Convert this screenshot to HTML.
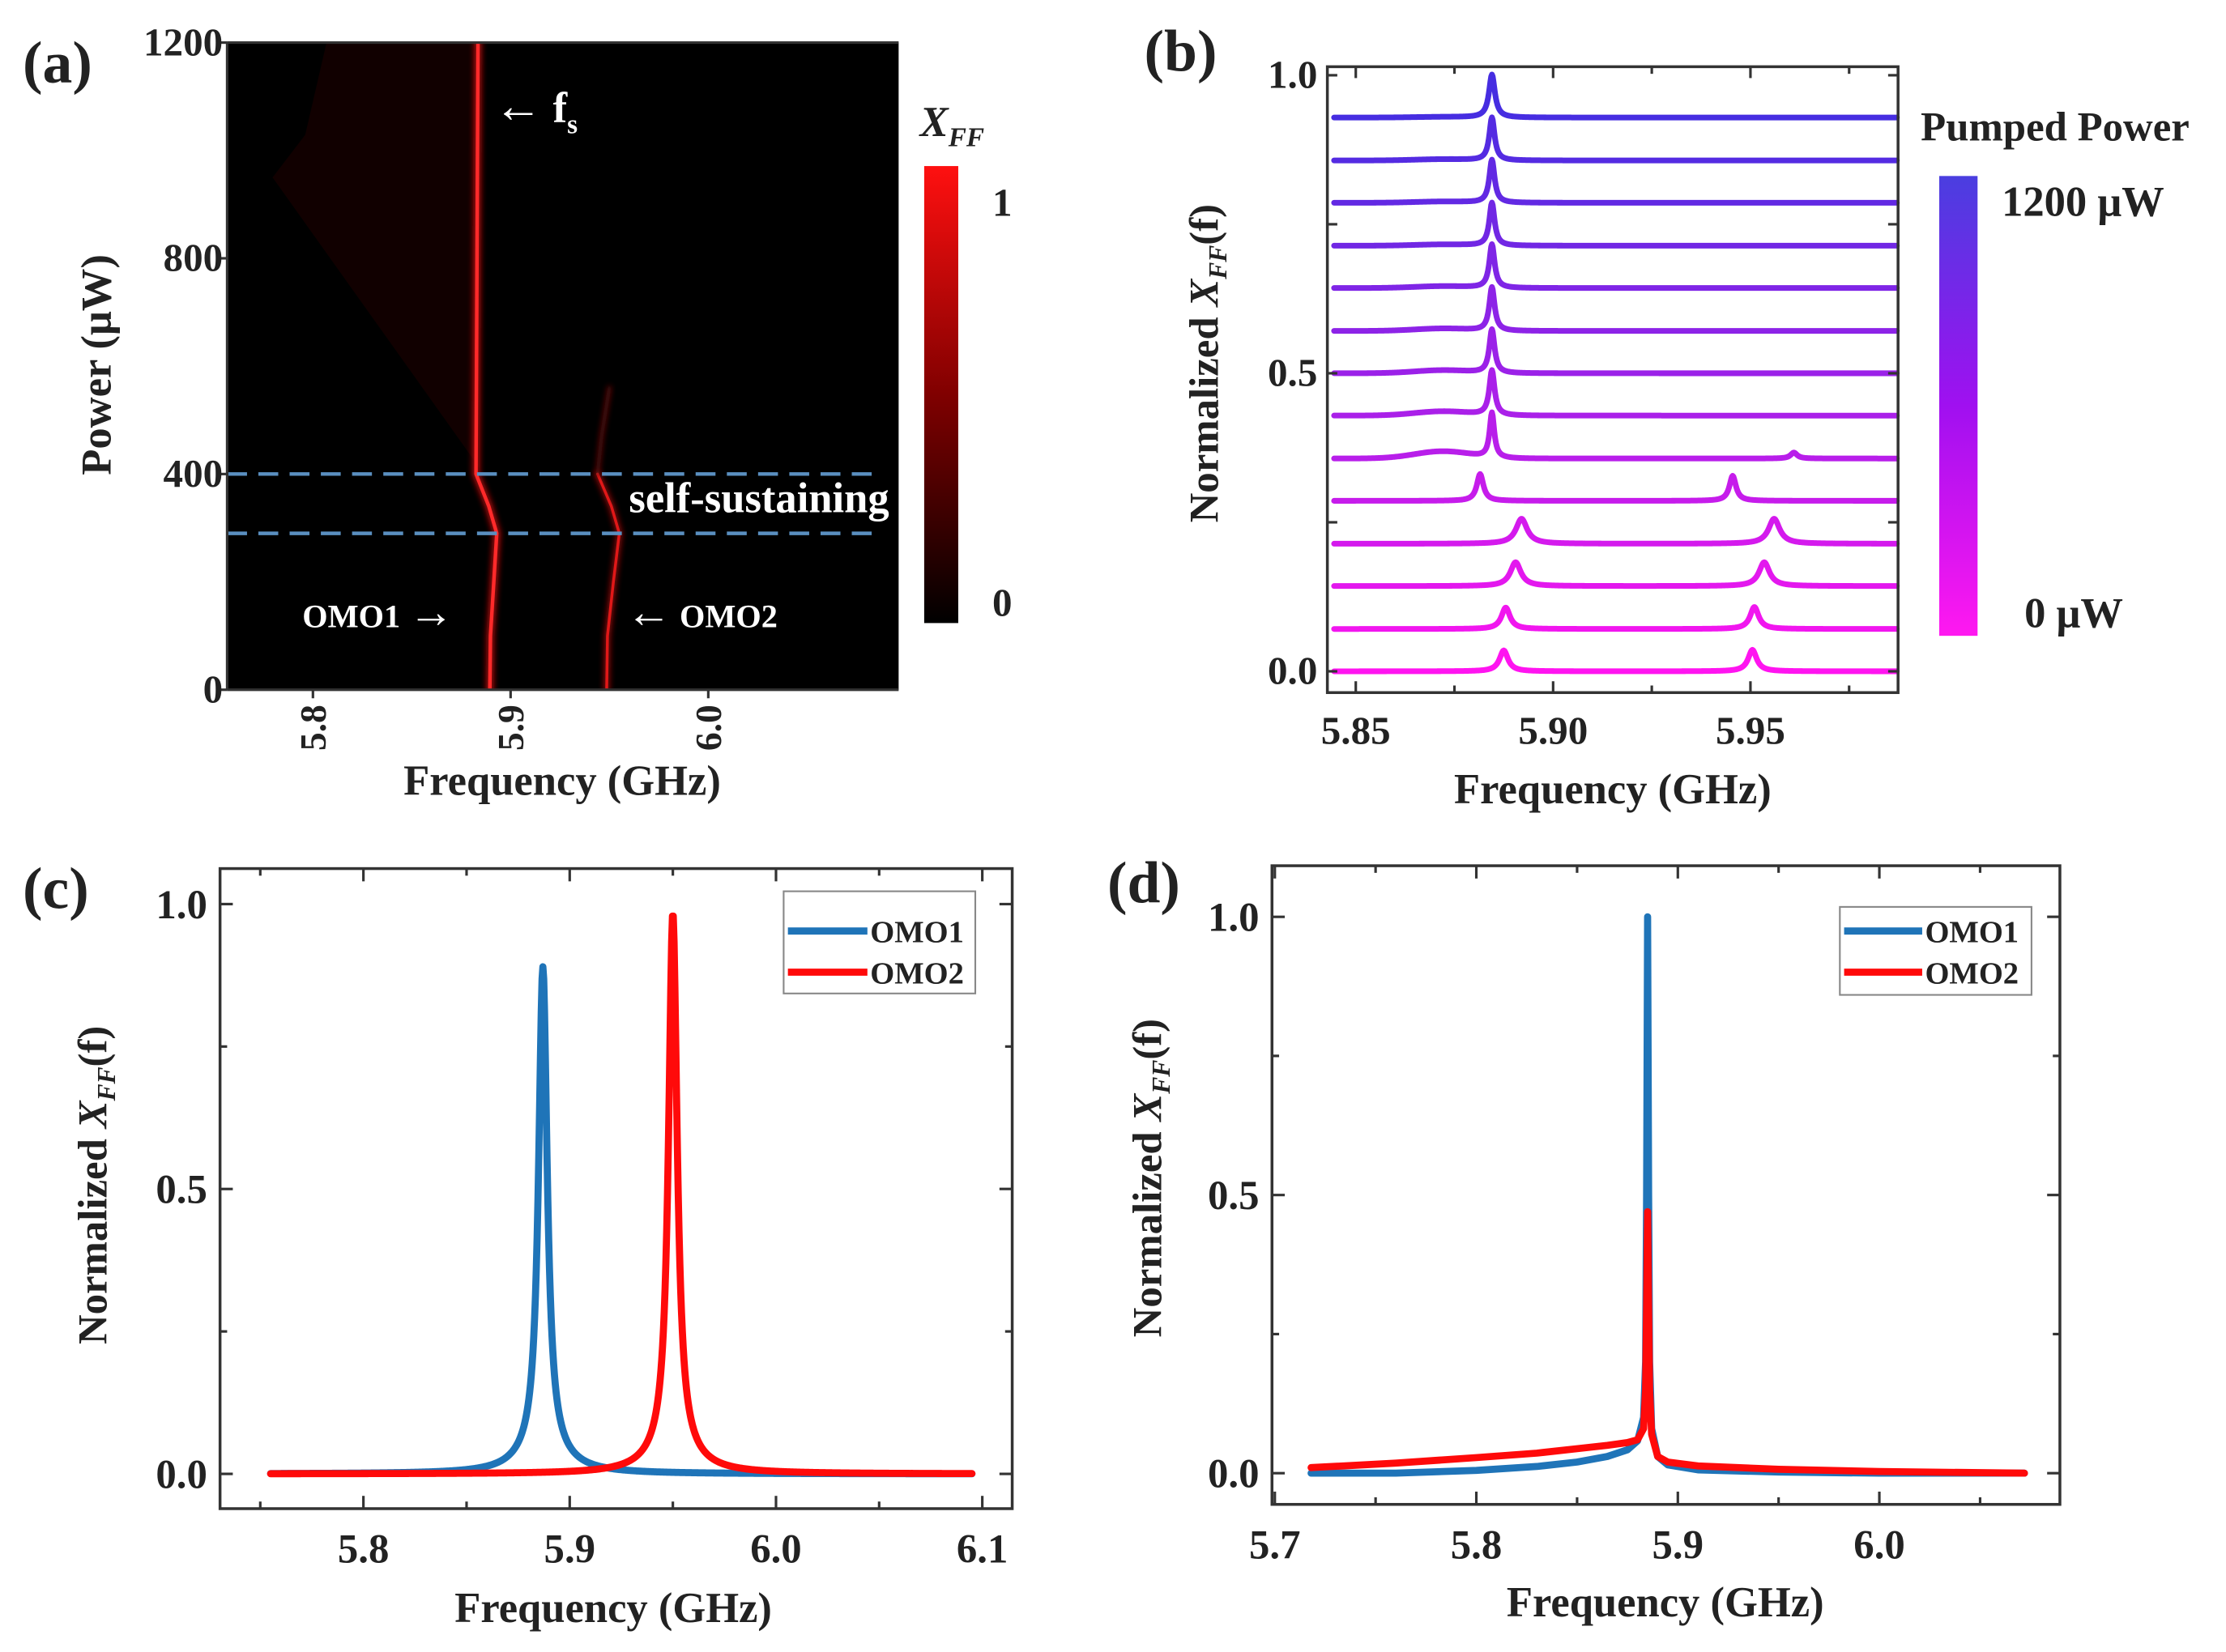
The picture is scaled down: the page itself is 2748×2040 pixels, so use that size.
<!DOCTYPE html>
<html><head><meta charset="utf-8"><style>
html,body{margin:0;padding:0;background:#fff;}
svg{display:block;}
text{font-family:"Liberation Serif",serif;font-weight:bold;fill:#222;}
</style></head><body>
<svg id="fig" width="2748" height="2040" viewBox="0 0 1568 1164" xmlns="http://www.w3.org/2000/svg">
<defs>
<linearGradient id="cbA" x1="0" y1="1" x2="0" y2="0"><stop offset="0" stop-color="#000"/><stop offset="0.5" stop-color="#800000"/><stop offset="1" stop-color="#ff1010"/></linearGradient>
<linearGradient id="cbB" x1="0" y1="1" x2="0" y2="0"><stop offset="0" stop-color="#ff18f0"/><stop offset="0.5" stop-color="#a010f0"/><stop offset="1" stop-color="#4a3ee0"/></linearGradient>
<filter id="glow" x="-50%" y="-50%" width="200%" height="200%"><feGaussianBlur stdDeviation="2"/></filter>
<clipPath id="clipA"><rect x="160" y="30" width="473" height="456"/></clipPath>
</defs>
<rect width="1568" height="1164" fill="#fff"/>

<!-- Panel a -->
<g id="pa">
<text x="16" y="58" font-size="42">(a)</text>
<rect x="160" y="30" width="473" height="456" fill="#000"/>
<g clip-path="url(#clipA)">
<polygon points="192,125 215,95 230,30 338,30 338,330" fill="#110000"/>
<g id="ridges"></g>
</g>
<line x1="160" y1="329" x2="615" y2="329" stroke="#5a8fc0" stroke-width="2.5" stroke-dasharray="14,8"/>
<line x1="160" y1="376" x2="615" y2="376" stroke="#5a8fc0" stroke-width="2.5" stroke-dasharray="14,8"/>
<text x="348" y="86" font-size="30" style="fill:#fff"><tspan font-size="34">←</tspan> f<tspan font-size="19" dy="8">s</tspan></text>
<text x="443" y="361" font-size="30" style="fill:#fff">self-sustaining</text>
<text x="213" y="442" font-size="23" style="fill:#fff">OMO1 <tspan font-size="32">→</tspan></text>
<text x="441" y="442" font-size="23" style="fill:#fff"><tspan font-size="32">←</tspan> OMO2</text>
<rect x="651" y="117" width="24" height="322" fill="url(#cbA)"/>
<text x="648" y="96" font-size="30" font-style="italic">X<tspan font-size="19" dy="7">FF</tspan></text>
<text x="699" y="152" font-size="28">1</text>
<text x="699" y="434" font-size="28">0</text>
<text x="396" y="560" font-size="30" text-anchor="middle">Frequency (GHz)</text>
<text transform="translate(78,257) rotate(-90)" font-size="30" text-anchor="middle">Power (μW)</text>
</g>

<!-- Panel b -->
<g id="pb">
<text x="806" y="50" font-size="42">(b)</text>
<g id="traces"></g>
<text x="1136" y="566" font-size="30" text-anchor="middle">Frequency (GHz)</text>
<text transform="translate(858,256) rotate(-90)" font-size="29" text-anchor="middle">Normalized <tspan font-style="italic">X<tspan font-size="18" dy="6">FF</tspan></tspan><tspan dy="-6">(f)</tspan></text>
<text x="1353" y="99" font-size="29">Pumped Power</text>
<rect x="1366" y="124" width="27" height="324" fill="url(#cbB)"/>
<text x="1410" y="152" font-size="30">1200 μW</text>
<text x="1426" y="442" font-size="30">0 μW</text>
</g>

<!-- Panel c -->
<g id="pc">
<text x="16" y="640" font-size="42">(c)</text>
<text x="432" y="1143" font-size="30" text-anchor="middle">Frequency (GHz)</text>
<text transform="translate(75,835) rotate(-90)" font-size="29" text-anchor="middle">Normalized <tspan font-style="italic">X<tspan font-size="18" dy="6">FF</tspan></tspan><tspan dy="-6">(f)</tspan></text>
<rect x="552" y="628" width="135" height="72" fill="#fff" stroke="#888" stroke-width="1.2"/>
<line x1="555" y1="656" x2="611" y2="656" stroke="#1f74b8" stroke-width="5"/>
<text x="613" y="664" font-size="22">OMO1</text>
<line x1="555" y1="685" x2="611" y2="685" stroke="#ff0a0a" stroke-width="5"/>
<text x="613" y="693" font-size="22">OMO2</text>
</g>

<!-- Panel d -->
<g id="pd">
<text x="780" y="636" font-size="42">(d)</text>
<text x="1173" y="1139" font-size="30" text-anchor="middle">Frequency (GHz)</text>
<text transform="translate(818,830) rotate(-90)" font-size="29" text-anchor="middle">Normalized <tspan font-style="italic">X<tspan font-size="18" dy="6">FF</tspan></tspan><tspan dy="-6">(f)</tspan></text>
</g>
</svg>
<script>
// ---------- data ----------
const omo1Power = [0, 100, 200, 290, 340, 400, 1200];
const omo1Freq = [5.8895, 5.8898, 5.8915, 5.893, 5.889, 5.8825, 5.8835];
const omo2Power = [0, 100, 200, 290, 340, 400];
const omo2Freq = [5.9486, 5.949, 5.952, 5.955, 5.951, 5.944];
const omo2FaintPower = [400, 470, 560];
const omo2FaintFreq = [5.944, 5.946, 5.950];
const aXTicks = [5.8, 5.9, 6.0];
const aXTickLabels = ["5.8", "5.9", "6.0"];
const aYTicks = [0, 400, 800, 1200];
const aYTickLabels = ["0", "400", "800", "1200"];
const dashedPowers = [400, 290];

const bOffsets = [0, 0.071, 0.143, 0.214, 0.286, 0.357, 0.429, 0.5, 0.571, 0.643, 0.714, 0.786, 0.857, 0.929];
const bPeak1F = [5.8875, 5.888, 5.8905, 5.892, 5.8815, 5.8845, 5.8845, 5.8845, 5.8845, 5.8845, 5.8845, 5.8845, 5.8845, 5.8845];
const bPeak1H = [0.035, 0.036, 0.04, 0.042, 0.045, 0.075, 0.075, 0.073, 0.073, 0.073, 0.072, 0.072, 0.072, 0.072];
const bPeak1W = [0.0013, 0.0013, 0.0016, 0.0017, 0.001, 0.0007, 0.0008, 0.0008, 0.0008, 0.0008, 0.0008, 0.0008, 0.0008, 0.0009];
const bPeak2F = [5.9505, 5.951, 5.9535, 5.956, 5.9455, 5.961, 5.95, 5.95, 5.95, 5.95, 5.95, 5.95, 5.95, 5.95];
const bPeak2H = [0.036, 0.037, 0.04, 0.042, 0.042, 0.01, 0, 0, 0, 0, 0, 0, 0, 0];
const bPeak2W = [0.0013, 0.0013, 0.0016, 0.0017, 0.001, 0.001, 0.001, 0.001, 0.001, 0.001, 0.001, 0.001, 0.001, 0.001];
const bShoulderH = [0, 0, 0, 0, 0, 0.012, 0.007, 0.005, 0.004, 0.003, 0.002, 0.002, 0.002, 0.001];
const bXTicks = [5.85, 5.90, 5.95];
const bXTickLabels = ["5.85", "5.90", "5.95"];
const bYTicks = [0, 0.5, 1.0];
const bYTickLabels = ["0.0", "0.5", "1.0"];

const cNames = ["OMO1", "OMO2"];
const cCenters = [5.887, 5.950];
const cNarrowH = [0.85, 0.945];
const cNarrowW = [0.0025, 0.0025];
const cBroadH = [0.04, 0.04];
const cBroadW = [0.012, 0.012];
const cRange = [5.755, 6.095];
const cXTicks = [5.8, 5.9, 6.0, 6.1];
const cXTickLabels = ["5.8", "5.9", "6.0", "6.1"];
const yTicks01 = [0, 0.5, 1.0];
const yTickLabels01 = ["0.0", "0.5", "1.0"];

const dFreq = [5.718, 5.76, 5.80, 5.83, 5.85, 5.865, 5.875, 5.88, 5.883, 5.884, 5.8845, 5.885, 5.8855, 5.886, 5.887, 5.89, 5.895, 5.91, 5.95, 6.0, 6.072];
const dOmo1 = [0, 0, 0.005, 0.012, 0.02, 0.03, 0.042, 0.058, 0.1, 0.2, 0.5, 1.0, 0.5, 0.2, 0.08, 0.03, 0.015, 0.006, 0.002, 0, 0];
const dOmo2 = [0.01, 0.018, 0.028, 0.036, 0.044, 0.05, 0.055, 0.06, 0.08, 0.15, 0.3, 0.47, 0.3, 0.15, 0.07, 0.03, 0.02, 0.013, 0.007, 0.003, 0];
const dXTicks = [5.7, 5.8, 5.9, 6.0];
const dXTickLabels = ["5.7", "5.8", "5.9", "6.0"];

// ---------- axes ----------
const NS = "http://www.w3.org/2000/svg";
function el(tag, parent) { const e = document.createElementNS(NS, tag); parent.appendChild(e); return e; }
function makeAxis(x0, x1, y0, y1, xd, yd) {
  return {
    x: v => x0 + (v - xd[0]) / (xd[1] - xd[0]) * (x1 - x0),
    y: v => y1 - (v - yd[0]) / (yd[1] - yd[0]) * (y1 - y0),
    x0, x1, y0, y1
  };
}
const A = makeAxis(160, 633, 30, 486, [5.7566, 6.0963], [0, 1200]);
const B = makeAxis(935, 1337, 47, 488, [5.8428, 5.9874], [-0.0357, 1.0143]);
const C = makeAxis(155, 713, 612, 1063, [5.7305, 6.1145], [-0.061, 1.0623]);
const D = makeAxis(896, 1451, 610, 1060, [5.6986, 6.0896], [-0.0561, 1.0918]);

function frame(ax, parent, name) {
  const r = el("rect", parent);
  r.setAttribute("x", ax.x0); r.setAttribute("y", ax.y0);
  r.setAttribute("width", ax.x1 - ax.x0); r.setAttribute("height", ax.y1 - ax.y0);
  r.setAttribute("fill", "none"); r.setAttribute("stroke", "#333"); r.setAttribute("stroke-width", "2");
  
  
}
function tick(parent, x1, y1, x2, y2, name) {
  const l = el("line", parent);
  l.setAttribute("x1", x1); l.setAttribute("y1", y1); l.setAttribute("x2", x2); l.setAttribute("y2", y2);
  l.setAttribute("stroke", "#333"); l.setAttribute("stroke-width", "1.8");
  
  
}
function label(parent, x, y, txt, anchor, size, name, rot) {
  const t = el("text", parent);
  if (rot) { t.setAttribute("transform", "translate(" + x + "," + y + ") rotate(-90)"); }
  else { t.setAttribute("x", x); t.setAttribute("y", y); }
  t.setAttribute("text-anchor", anchor); t.setAttribute("font-size", size);
  t.textContent = txt;
  
  
}
function pathFrom(ax, xs, ys, parent, color, w, name) {
  let d = "";
  for (let i = 0; i < xs.length; i++) d += (i ? "L" : "M") + ax.x(xs[i]).toFixed(2) + "," + ax.y(ys[i]).toFixed(2);
  const p = el("path", parent);
  p.setAttribute("d", d); p.setAttribute("fill", "none"); p.setAttribute("stroke", color);
  p.setAttribute("stroke-width", w); p.setAttribute("stroke-linejoin", "round"); p.setAttribute("stroke-linecap", "round");
  
  
  return p;
}

// ---------- panel a ----------
const pa = document.getElementById("pa");
const ridges = document.getElementById("ridges");
const g1 = pathFrom(A, omo1Freq, omo1Power, ridges, "#d01010", 6, "omo1-ridge-glow");
g1.setAttribute("filter", "url(#glow)"); g1.setAttribute("opacity", "0.7");
pathFrom(A, omo1Freq, omo1Power, ridges, "#ff2a2a", 2.5, "omo1-fs-ridge");
const g2 = pathFrom(A, omo2Freq, omo2Power, ridges, "#c01010", 5, "omo2-ridge-glow");
g2.setAttribute("filter", "url(#glow)"); g2.setAttribute("opacity", "0.6");
pathFrom(A, omo2Freq, omo2Power, ridges, "#e01818", 2, "omo2-ridge");
const g3 = pathFrom(A, omo2FaintFreq, omo2FaintPower, ridges, "#601010", 3, "omo2-faint-branch");
g3.setAttribute("filter", "url(#glow)");
tick(pa, A.x0, A.y0, A.x1, A.y0, "top-border-a");
tick(pa, A.x0, A.y0, A.x0, A.y1, "left-border-a");
tick(pa, A.x0, A.y1, A.x1, A.y1, "bottom-border-a");
aXTicks.forEach((v, i) => {
  tick(pa, A.x(v), A.y1, A.x(v), A.y1 + 6, "x-tick-a");
  label(pa, A.x(v) + 9, A.y1 + 43, aXTickLabels[i], "start", 26, "x-tick-label-a", true);
});
aYTicks.forEach((v, i) => {
  tick(pa, A.x0 - 6, A.y(v), A.x0, A.y(v), "y-tick-a");
  label(pa, A.x0 - 3, A.y(v) + 9, aYTickLabels[i], "end", 28, "y-tick-label-a");
});
document.querySelectorAll("#pa line[stroke-dasharray]").forEach((l, i) => {
  l.setAttribute("y1", A.y(dashedPowers[i])); l.setAttribute("y2", A.y(dashedPowers[i]));
});

// ---------- panel b ----------
const pb = document.getElementById("pb");
const traces = document.getElementById("traces");
function lor(f, c, h, w) { const d = (f - c) / w; return h / (1 + d * d); }
bOffsets.forEach((off, i) => {
  const fr = [], vals = [];
  for (let f = 5.8445; f <= 5.9872; f += 0.0002) {
    let v = off + lor(f, bPeak1F[i], bPeak1H[i], bPeak1W[i]) + lor(f, bPeak2F[i], bPeak2H[i], bPeak2W[i]);
    v += bShoulderH[i] * Math.exp(-Math.pow((f - 5.872) / 0.01, 2));
    fr.push(f); vals.push(v);
  }
  const t = i / (bOffsets.length - 1);
  const r = Math.round(255 + (70 - 255) * t), g = Math.round(20 + (45 - 20) * t), b = Math.round(240 + (225 - 240) * t);
  pathFrom(B, fr, vals, traces, "rgb(" + r + "," + g + "," + b + ")", 4, "trace-power-" + i);
});
frame(B, pb, "plot-frame-b");
[5.85, 5.875, 5.90, 5.925, 5.95, 5.975].forEach(v => {
  const major = bXTicks.some(m => Math.abs(m - v) < 1e-6);
  tick(pb, B.x(v), B.y1, B.x(v), B.y1 - (major ? 8 : 5), "x-tick-b");
  tick(pb, B.x(v), B.y0, B.x(v), B.y0 + (major ? 8 : 5), "x-tick-b-top");
});
bXTicks.forEach((v, i) => label(pb, B.x(v), B.y1 + 36, bXTickLabels[i], "middle", 28, "x-tick-label-b"));
[0, 0.25, 0.5, 0.75, 1.0].forEach(v => {
  tick(pb, B.x0, B.y(v), B.x0 + 7, B.y(v), "y-tick-b");
  tick(pb, B.x1, B.y(v), B.x1 - 7, B.y(v), "y-tick-b-right");
});
bYTicks.forEach((v, i) => label(pb, B.x0 - 7, B.y(v) + 9, bYTickLabels[i], "end", 28, "y-tick-label-b"));

// ---------- generic axes c/d ----------
function axesCD(ax, parent, xt, xtl, minorStep, suffix) {
  frame(ax, parent, "plot-frame-" + suffix);
  const xs = Math.min(...xt) - minorStep * 2;
  for (let v = xs; v <= Math.max(...xt) + minorStep * 2 + 1e-9; v += minorStep) {
    const px = ax.x(v);
    if (px < ax.x0 + 1 || px > ax.x1 - 1) continue;
    const major = xt.some(m => Math.abs(m - v) < 1e-6);
    tick(parent, px, ax.y1, px, ax.y1 - (major ? 9 : 5), "x-tick-" + suffix);
    tick(parent, px, ax.y0, px, ax.y0 + (major ? 9 : 5), "x-tick-top-" + suffix);
  }
  xt.forEach((v, i) => label(parent, ax.x(v), ax.y1 + 38, xtl[i], "middle", 29, "x-tick-label-" + suffix));
  [0, 0.25, 0.5, 0.75, 1.0].forEach(v => {
    const major = yTicks01.includes(v);
    tick(parent, ax.x0, ax.y(v), ax.x0 + (major ? 9 : 5), ax.y(v), "y-tick-" + suffix);
    tick(parent, ax.x1, ax.y(v), ax.x1 - (major ? 9 : 5), ax.y(v), "y-tick-right-" + suffix);
  });
  yTicks01.forEach((v, i) => label(parent, ax.x0 - 9, ax.y(v) + 10, yTickLabels01[i], "end", 29, "y-tick-label-" + suffix));
}

// ---------- panel c ----------
const pc = document.getElementById("pc");
const pcLegend = pc.querySelector("rect");
axesCD(C, pc, cXTicks, cXTickLabels, 0.05, "c");
const cColors = ["#1f74b8", "#ff0a0a"];
cCenters.forEach((c, k) => {
  const fr = [], vals = [];
  for (let f = cRange[0]; f <= cRange[1] + 1e-9; f += 0.0004) {
    fr.push(f);
    vals.push(lor(f, c, cNarrowH[k], cNarrowW[k]) + lor(f, c, cBroadH[k], cBroadW[k]));
  }
  const p = pathFrom(C, fr, vals, pc, cColors[k], 5, "curve-c-" + cNames[k].toLowerCase());
  pc.insertBefore(p, pcLegend);
});

// ---------- panel d ----------
const pd = document.getElementById("pd");
axesCD(D, pd, dXTicks, dXTickLabels, 0.05, "d");
pathFrom(D, dFreq, dOmo1, pd, "#1f74b8", 5, "curve-d-omo1");
pathFrom(D, dFreq, dOmo2, pd, "#ff0a0a", 5, "curve-d-omo2");
const lg = el("g", pd);


lg.innerHTML = '<rect x="1296" y="639" width="135" height="62" fill="#fff" stroke="#888" stroke-width="1.2"/>' +
 '<line x1="1299" y1="656" x2="1354" y2="656" stroke="#1f74b8" stroke-width="5"/>' +
 '<text x="1356" y="664" font-size="22">OMO1</text>' +
 '<line x1="1299" y1="685" x2="1354" y2="685" stroke="#ff0a0a" stroke-width="5"/>' +
 '<text x="1356" y="693" font-size="22">OMO2</text>';
</script>
</body></html>
